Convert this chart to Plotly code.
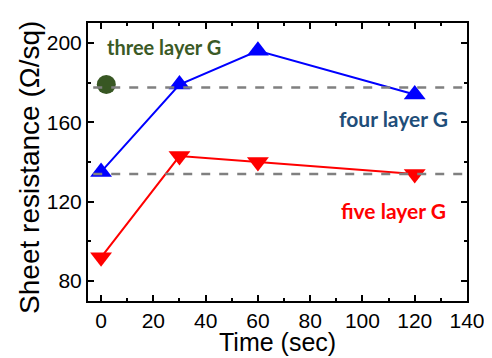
import plotly.graph_objects as go

time_x = [0, 30, 60, 120]
four_layer = [135, 179, 196, 174]
five_layer = [92, 143, 140, 134]
three_layer_x = [2]
three_layer_y = [179]
ref_levels = [177.5, 134]

fig = go.Figure()
for lvl in ref_levels:
    fig.add_shape(type="line", xref="x", yref="y", x0=-3, x1=139, y0=lvl, y1=lvl,
                  line=dict(color="#808080", width=2.5, dash="dash"))

fig.add_trace(go.Scatter(x=time_x, y=four_layer, mode="lines+markers",
                         line=dict(color="#0000ff", width=2),
                         marker=dict(symbol="triangle-up", size=19, color="#0000ff")))
fig.add_trace(go.Scatter(x=time_x, y=five_layer, mode="lines+markers",
                         line=dict(color="#ff0000", width=2),
                         marker=dict(symbol="triangle-down", size=19, color="#ff0000")))
fig.add_trace(go.Scatter(x=three_layer_x, y=three_layer_y, mode="markers",
                         marker=dict(symbol="circle", size=19, color="#385723")))

ann_font = "Lato"
fig.add_annotation(x=0.045, y=0.914, xref="paper", yref="paper", text="<b>three layer G</b>",
                   showarrow=False, xanchor="left", yanchor="middle",
                   font=dict(family=ann_font, size=20, color="#3b5a26"))
fig.add_annotation(x=0.955, y=0.655, xref="paper", yref="paper", text="<b>four layer G</b>",
                   showarrow=False, xanchor="right", yanchor="middle",
                   font=dict(family=ann_font, size=21, color="#1f4e79"))
fig.add_annotation(x=0.95, y=0.327, xref="paper", yref="paper", text="<b>five layer G</b>",
                   showarrow=False, xanchor="right", yanchor="middle",
                   font=dict(family=ann_font, size=21, color="#ff0000"))

# axis titles
fig.add_annotation(x=0.5, y=-0.205, xref="paper", yref="paper", text="Time (sec)",
                   showarrow=False, xanchor="center", yanchor="bottom",
                   font=dict(family="Liberation Sans", size=25, color="black"))
fig.add_annotation(x=-0.156, y=0.482, xref="paper", yref="paper", text="Sheet resistance (Ω/sq)",
                   showarrow=False, xanchor="center", yanchor="middle", textangle=-90,
                   font=dict(family="Liberation Sans", size=28, color="black"))

axis_common = dict(showline=True, linecolor="black", linewidth=2, mirror="ticks",
                   ticks="inside", ticklen=6, tickwidth=1.5, tickcolor="black",
                   showgrid=False, zeroline=False, automargin=False,
                   tickfont=dict(family="Liberation Sans", size=21, color="black"))
fig.update_xaxes(range=[-5, 140], tickvals=[0, 20, 40, 60, 80, 100, 120, 140],
                 minor=dict(ticks="inside", ticklen=3, tickwidth=1.5, tickcolor="black", dtick=10, tick0=0),
                 **axis_common)
fig.update_yaxes(range=[70, 210], tickvals=[80, 120, 160, 200],
                 minor=dict(ticks="inside", ticklen=3, tickwidth=1.5, tickcolor="black", dtick=20, tick0=0),
                 **axis_common)

# page body has an 8px margin, so the figure is offset by 8px
fig.update_layout(width=484, height=350, margin=dict(l=80, r=25, t=15, b=57),
                  plot_bgcolor="white", paper_bgcolor="white", showlegend=False)
fig.write_html("out.html")
